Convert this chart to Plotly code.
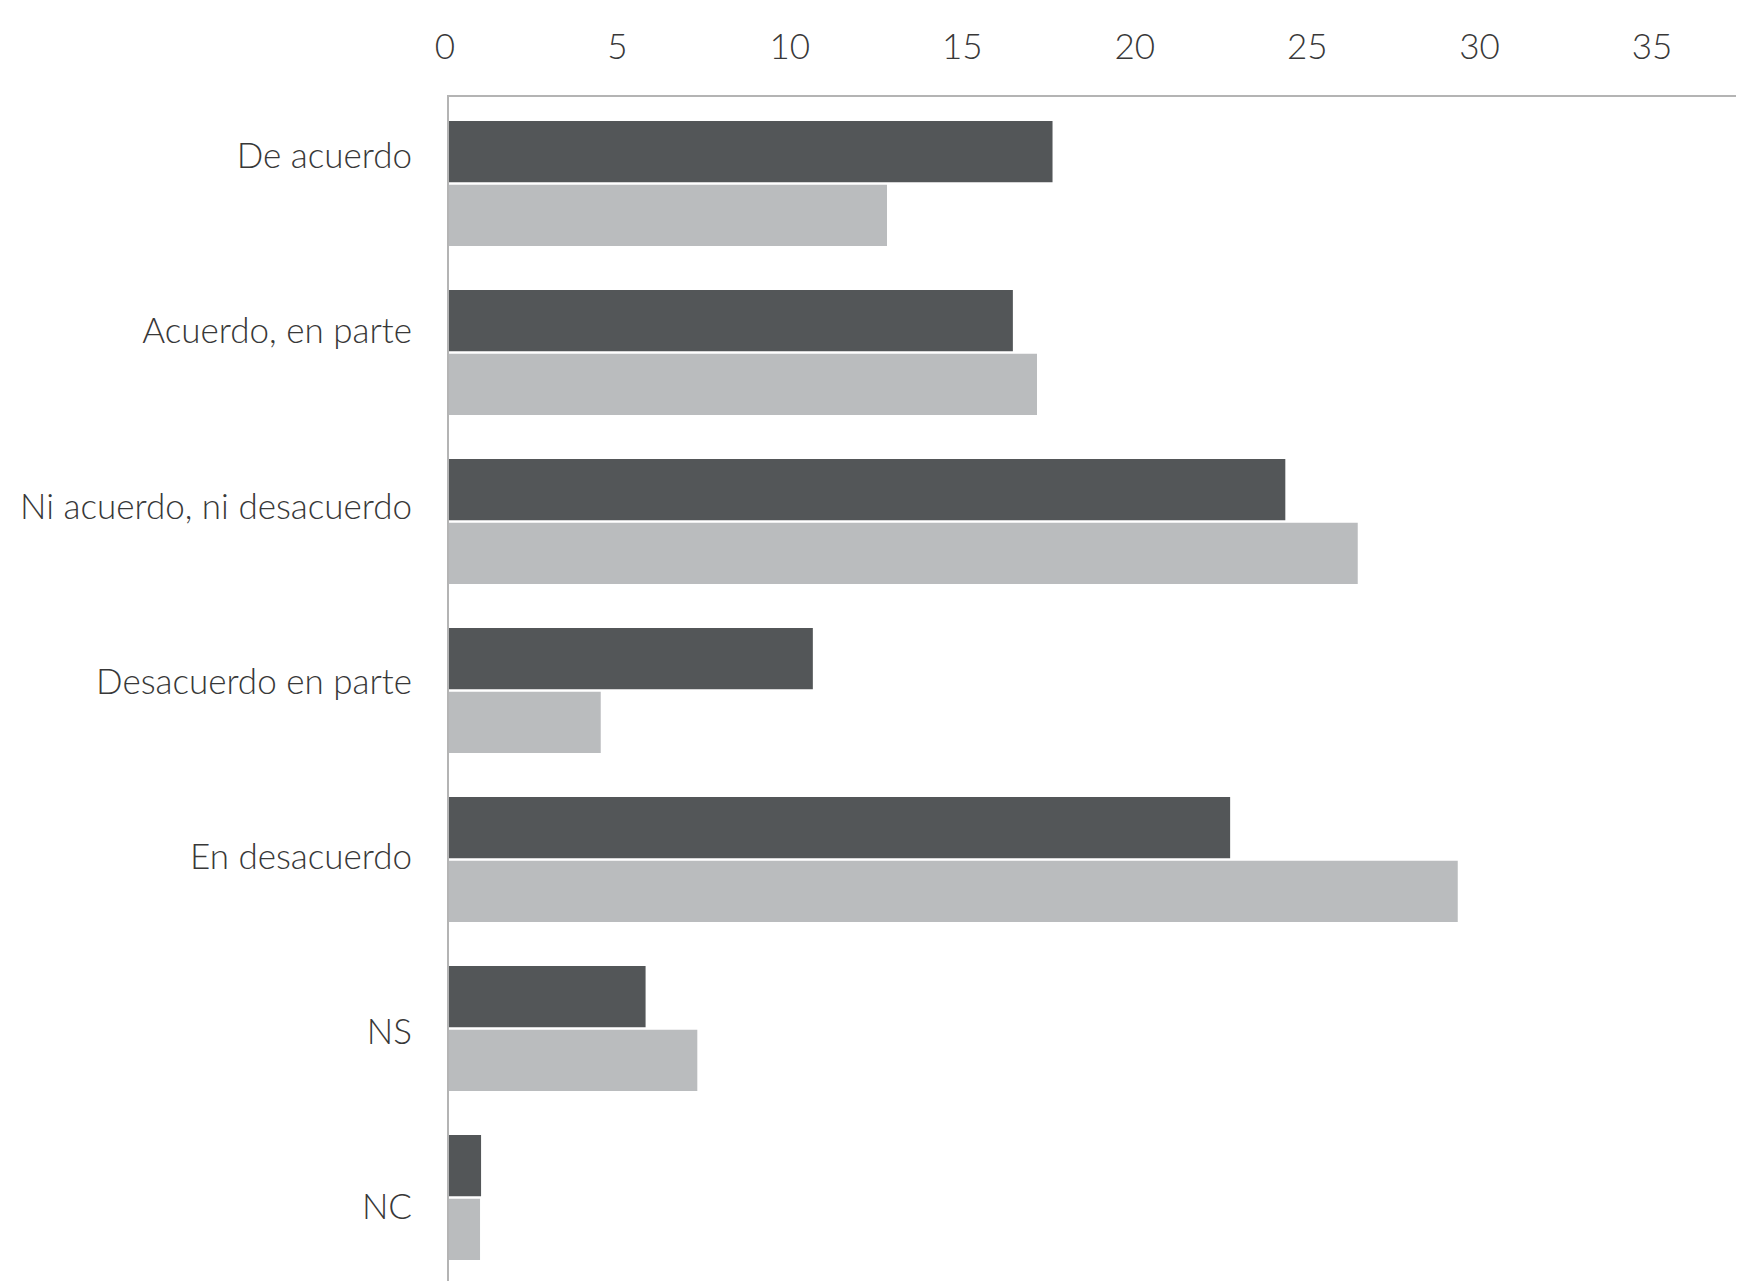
import plotly.graph_objects as go

categories = ["De acuerdo", "Acuerdo, en parte", "Ni acuerdo, ni desacuerdo",
              "Desacuerdo en parte", "En desacuerdo", "NS", "NC"]
serie_oscura = [17.5, 16.35, 24.25, 10.55, 22.65, 5.7, 0.93]
serie_clara = [12.7, 17.05, 26.35, 4.4, 29.25, 7.2, 0.9]
x_ticks = [0, 5, 10, 15, 20, 25, 30, 35]

DARK = "#535658"
LIGHT = "#babcbe"
FONT = dict(family="Lato, 'Noto Sans', sans-serif", size=35, color="#383838", weight=300)

fig = go.Figure()
fig.add_trace(go.Bar(y=categories, x=serie_oscura, orientation="h",
                     marker=dict(color=DARK, line=dict(width=0)), showlegend=False))
fig.add_trace(go.Bar(y=categories, x=serie_clara, orientation="h",
                     marker=dict(color=LIGHT, line=dict(width=0)), showlegend=False))
# invisible carrier for the category labels axis
fig.add_trace(go.Bar(y=categories, x=[0] * len(categories), orientation="h",
                     yaxis="y2", marker=dict(opacity=0), showlegend=False,
                     hoverinfo="skip"))

fig.update_layout(
    width=1736, height=1273,
    margin=dict(l=441, r=0, t=89, b=0),
    paper_bgcolor="white", plot_bgcolor="white",
    barmode="group", bargap=0.245, bargroupgap=0.04,
    font=FONT,
    xaxis=dict(side="top", range=[0, 37.55], tickvals=x_ticks,
               ticktext=[str(v) for v in x_ticks],
               showgrid=False, zeroline=False, automargin=False,
               showline=True, linecolor="#b4b4b4", linewidth=2,
               ticks="", ticklabelstandoff=22, ticklabelshift=-4, tickfont=FONT),
    yaxis=dict(type="category", categoryorder="array", categoryarray=categories,
               range=[6.494, -0.512], showgrid=False, zeroline=False,
               automargin=False, showticklabels=False,
               showline=True, linecolor="#b4b4b4", linewidth=2, ticks=""),
    yaxis2=dict(type="category", categoryorder="array", categoryarray=categories,
                overlaying="y", side="left", anchor="x",
                range=[6.421, -0.337], showgrid=False, zeroline=False,
                automargin=False, showline=False, ticks="",
                ticklabelstandoff=36, tickfont=FONT),
)

fig.write_html("out.html")
